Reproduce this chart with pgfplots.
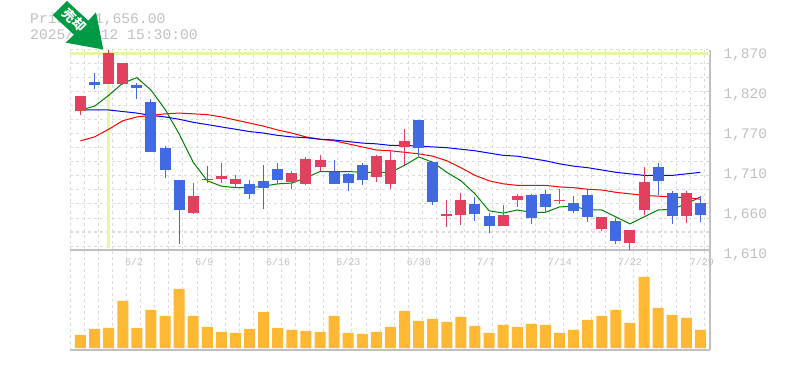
\documentclass[border=0pt]{standalone}
\usepackage{fontspec}
\setmainfont{Liberation Mono}
\newfontfamily\cjk{Noto Sans CJK JP}
\usepackage{pgfplots}
\usepackage{pgfplotstable}
\pgfplotsset{compat=1.18}
\definecolor{cred}{HTML}{E1415F}
\definecolor{cblue}{HTML}{4169E1}
\definecolor{cgrid}{HTML}{DCDCDC}
\definecolor{caxis}{HTML}{C0C0C0}
\definecolor{ctext}{HTML}{C0C0C0}
\definecolor{cyel}{HTML}{E5F6A6}
\definecolor{cvol}{HTML}{FFB833}
\definecolor{carrow}{HTML}{009944}
% i body-top body-bottom wick-top wick-bottom
\pgfplotstableread{
i bt bb wt wb
0 1810 1791 1810 1786
2 1866 1826 1870 1826
3 1853 1826 1853 1825
8 1680 1658 1697 1657
10 1706 1702 1723 1697
11 1702 1696 1707 1692
15 1710 1698 1713 1689
16 1728 1696 1731 1695
17 1727 1718 1733 1713
21 1732 1705 1733 1698
22 1727 1696 1740 1689
23 1752 1744 1767 1721
26 1657 1654 1675 1640
27 1675 1656 1684 1643
30 1656 1641 1669 1641
31 1680 1675 1683 1666
34 1675 1674 1689 1670
37 1653 1637 1653 1635
39 1636 1619 1636 1610
40 1698 1662 1718 1656
43 1684 1654 1687 1645
}\redcandles
\pgfplotstableread{
i bt bb wt wb
1 1828 1825 1840 1819
4 1824 1820 1827 1806
5 1802 1738 1806 1738
6 1743 1714 1745 1704
7 1701 1662 1701 1618
9 1702 1701 1719 1697
12 1696 1683 1701 1676
13 1700 1691 1720 1663
14 1715 1701 1723 1696
18 1711 1696 1727 1696
19 1709 1697 1710 1687
20 1721 1701 1723 1695
24 1779 1743 1779 1732
25 1724 1672 1724 1669
28 1670 1657 1679 1648
29 1654 1641 1658 1632
32 1682 1652 1683 1644
33 1683 1666 1688 1658
35 1671 1661 1680 1658
36 1682 1653 1689 1646
38 1648 1622 1652 1618
41 1718 1700 1723 1682
42 1684 1654 1687 1644
44 1671 1656 1680 1646
}\bluecandles
\pgfplotstableread{
i v
0 13
1 19
2 20
3 47
4 20
5 38
6 32
7 59
8 32
9 21
10 16
11 15
12 19
13 36
14 20
15 18
16 17
17 16
18 32
19 15
20 14
21 16
22 21
23 37
24 27
25 29
26 26
27 31
28 22
29 15
30 23
31 21
32 24
33 23
34 15
35 18
36 28
37 32
38 38
39 25
40 71
41 40
42 33
43 30
44 18
}\volumes
\pgfplotsset{
  wick/.style={draw=none, forget plot, mark=none, error bars/.cd, y dir=plus, y explicit,
    error mark=none, error bar style={color=#1, line width=1pt, solid}},
  body/.style={draw=none, forget plot, mark=none, error bars/.cd, y dir=plus, y explicit,
    error mark=none, error bar style={color=#1, line width=11pt, solid}},
  panel/.style={
    scale only axis, width=640pt,
    anchor=south west,
    xmin=-0.745, xmax=44.68,
    axis x line*=bottom, axis y line*=right,
    axis line style={draw=caxis, line width=1.5pt, -},
    major tick length=0pt,
    xtick={-0.73,0.27,...,44.3},
    xmajorgrids,
    grid style={draw=cgrid, line width=1pt, dash pattern=on 3pt off 3pt},
    xticklabels={},
    tick label style={font=\fontsize{10}{12}\selectfont, text=ctext},
  },
}
\begin{document}
\begin{tikzpicture}[x=1pt,y=1pt]
\useasboundingbox (0,0) rectangle (785,370);
\begin{axis}[panel, at={(70pt,120pt)}, height=200pt,
  ymin=1610, ymax=1870,
  ymajorgrids,
  ytick={1870,1851.8,...,1620},
  yticklabels={},
  extra y ticks={1610,1662,1714,1766,1818,1870},
  extra y tick labels={{1,610},{1,660},{1,710},{1,770},{1,820},{1,870}},
  extra y tick style={grid=none, tick label style={font=\fontsize{14.5}{16}\selectfont, text=ctext, anchor=west, xshift=10pt, yshift=-5pt}},
  extra x ticks={3.80,8.80,14.02,19.02,24.02,28.78,34.03,39.0,44.11},
  extra x tick labels={6/2,6/9,6/16,6/23,6/30,7/7,7/14,7/22,7/29},
  extra x tick style={grid=none, tick label style={font=\fontsize{10}{12}\selectfont, text=ctext, yshift=-5pt}},
]
\addplot[cyel, line width=3pt, forget plot] coordinates {(-0.745,1866) (44.68,1866)};
\addplot[cyel, line width=3pt, forget plot] coordinates {(1.98,1866) (1.98,1612)};
% green
\addplot[color=green!50!black, line width=1pt] table[x=i,y=p] {
i p
0.4 1794
1 1797
2 1811
3 1827
4 1834
5 1818
6 1793
7 1761
8 1724
9 1700
10 1693
11 1691
12 1691
13 1693
14 1696
15 1697
16 1704
17 1712
18 1712
19 1712
20 1711
21 1711
22 1711
23 1720
24 1731
25 1724
26 1711
27 1700
28 1683
29 1661
30 1658
31 1662
32 1659
33 1659
34 1666
35 1667
36 1662
37 1662
38 1653
39 1644
40 1653
41 1662
42 1663
43 1670
44 1679
};
% red
\addplot[color=red, line width=1pt] table[x=i,y=p] {
i p
0 1752
1 1757
2 1767
3 1778
4 1783
5 1785
6 1787
7 1788
8 1787
9 1786
10 1783
11 1779
12 1775
13 1771
14 1766
15 1762
16 1757
17 1754
18 1752
19 1748
20 1744
21 1740
22 1739
23 1737
24 1735
25 1732
26 1726
27 1717
28 1707
29 1700
30 1696
31 1694
32 1694
33 1694
34 1692
35 1691
36 1689
37 1688
38 1685
39 1683
40 1681
41 1680
42 1679
43 1678
44 1676
};
% blue
\addplot[color=blue, line width=1pt] table[x=i,y=p] {
i p
0.4 1792
1 1792
2 1792
3 1790
4 1788
5 1785
6 1783
7 1780
8 1776
9 1773
10 1770
11 1767
12 1764
13 1762
14 1759
15 1757
16 1756
17 1754
18 1753
19 1751
20 1749
21 1748
22 1746
23 1746
24 1745
25 1744
26 1743
27 1741
28 1739
29 1736
30 1733
31 1732
32 1729
33 1726
34 1722
35 1719
36 1717
37 1714
38 1711
39 1709
40 1707
41 1707
42 1707
43 1709
44 1711
};
% candles
\addplot[wick=cred] table[x=i,y=wb,y error plus expr=\thisrow{wt}-\thisrow{wb}] {\redcandles};
\addplot[body=cred] table[x=i,y=bb,y error plus expr=\thisrow{bt}-\thisrow{bb}] {\redcandles};
\addplot[wick=cblue] table[x=i,y=wb,y error plus expr=\thisrow{wt}-\thisrow{wb}] {\bluecandles};
\addplot[body=cblue] table[x=i,y=bb,y error plus expr=\thisrow{bt}-\thisrow{bb}] {\bluecandles};
\end{axis}
\begin{axis}[panel, at={(70pt,20pt)}, height=100pt,
  ymin=-2, ymax=98, ytick=\empty,
  ybar, bar width=11pt, bar shift=0pt,
]
\addplot[fill=cvol, draw=none] table[x=i,y=v] {\volumes};
\end{axis}
\node[anchor=west, inner sep=0pt, text=ctext, font=\fontsize{14.7}{16}\selectfont] at (30,351) {Price: 1,656.00};
\node[anchor=west, inner sep=0pt, text=ctext, font=\fontsize{14.7}{16}\selectfont] at (30,336) {2025/08/12 15:30:00};
\fill[carrow] (52.7,355) -- (67,369) -- (88.3,349.3) -- (96,357.7) -- (103.3,320.5) -- (65.7,327.3) -- (74,335.3) -- cycle;
\node[rotate=-45, text=white, inner sep=0pt, font=\cjk\bfseries\fontsize{13}{14}\selectfont] at (74.5,350) {売却};
\end{tikzpicture}
\end{document}
